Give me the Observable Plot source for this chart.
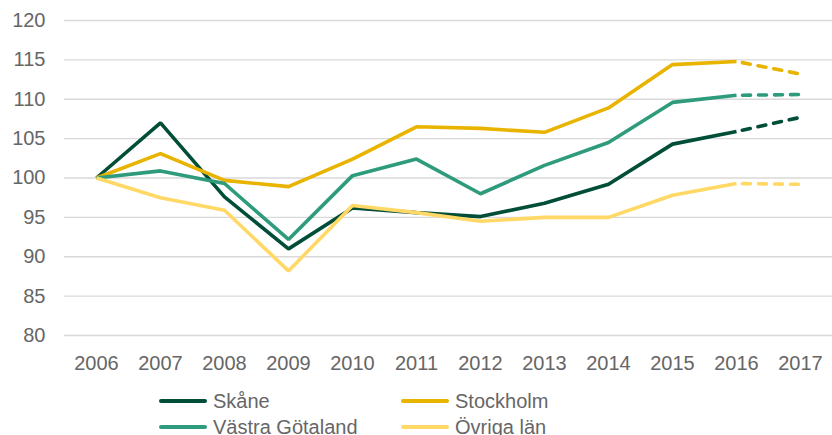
<!DOCTYPE html>
<html>
<head>
<meta charset="utf-8">
<script src="https://cdn.jsdelivr.net/npm/d3@7"></script>
<script src="https://cdn.jsdelivr.net/npm/@observablehq/plot@0.6"></script>
<style>
  html, body { margin: 0; padding: 0; background: #fff; }
  #wrap { position: relative; width: 832px; height: 435px; font-family: "Liberation Sans", Arial, sans-serif; }
  #wrap svg text { font-family: "Liberation Sans", Arial, sans-serif; font-size: 20px; fill: #666; }
  .leg { position: absolute; display: flex; align-items: center; font-size: 20px; color: #666; white-space: nowrap; }
  .leg .sw { width: 48px; height: 4px; border-radius: 2px; margin-right: 6px; }
</style>
</head>
<body>
<div id="wrap"></div>
<script>
const years = ["2006","2007","2008","2009","2010","2011","2012","2013","2014","2015","2016","2017"];
const seriesNames = ["Skåne", "Stockholm", "Västra Götaland", "Övriga län"];
const skane     = [100, 107.0, 97.6, 91.0, 96.2, 95.6, 95.1, 96.8, 99.2, 104.3, 105.9, 107.7];
const stockholm = [100, 103.1, 99.7, 98.9, 102.4, 106.5, 106.3, 105.8, 108.9, 114.4, 114.8, 113.2];
const vastra    = [100, 100.9, 99.3, 92.2, 100.3, 102.4, 98.0, 101.6, 104.5, 109.6, 110.5, 110.6];
const ovriga    = [100, 97.5, 95.9, 88.2, 96.5, 95.6, 94.5, 95.0, 95.0, 97.8, 99.3, 99.2];
const yTicks = [80, 85, 90, 95, 100, 105, 110, 115, 120];
const colors = ["#004d38", "#e8b400", "#2e9b7c", "#ffd866"];

const valuesBySeries = [skane, stockholm, vastra, ovriga];
const lastActual = 10; // index of 2016; 2016-2017 drawn dashed
const solid = [], dashed = [];
valuesBySeries.forEach((vals, s) => {
  vals.forEach((v, i) => {
    const row = {year: years[i], value: v, series: seriesNames[s]};
    if (i <= lastActual) solid.push(row);
    if (i >= lastActual) dashed.push(row);
  });
});

const chart = Plot.plot({
  width: 832,
  height: 380,
  marginLeft: 64,
  marginRight: 0,
  marginTop: 20,
  marginBottom: 45,
  x: {type: "point", domain: years, padding: 0.5},
  y: {domain: [80, 120]},
  color: {domain: seriesNames, range: colors},
  marks: [
    Plot.ruleY(yTicks, {stroke: "#d9d9d9", strokeWidth: 1.3}),
    Plot.axisY({ticks: yTicks, tickSize: 0, tickPadding: 19, label: null}),
    Plot.axisX({tickSize: 0, tickPadding: 20, label: null}),
    Plot.line(solid, {x: "year", y: "value", z: "series", stroke: "series", strokeWidth: 3.6, strokeLinejoin: "miter", strokeLinecap: "butt"}),
    Plot.line(dashed, {x: "year", y: "value", z: "series", stroke: "series", strokeWidth: 3.6, strokeDasharray: "8,8", strokeDashoffset: -6, strokeLinecap: "round"})
  ]
});
const wrap = document.getElementById("wrap");
wrap.appendChild(chart);

const legendPos = [[159, 389], [401, 389], [159, 415], [401, 415]];
seriesNames.forEach((name, i) => {
  const d = document.createElement("div");
  d.className = "leg";
  d.style.left = legendPos[i][0] + "px";
  d.style.top = legendPos[i][1] + "px";
  d.style.height = "24px";
  const sw = document.createElement("span");
  sw.className = "sw";
  sw.style.background = colors[i];
  const t = document.createElement("span");
  t.textContent = name;
  d.appendChild(sw);
  d.appendChild(t);
  wrap.appendChild(d);
});
</script>
</body>
</html>
